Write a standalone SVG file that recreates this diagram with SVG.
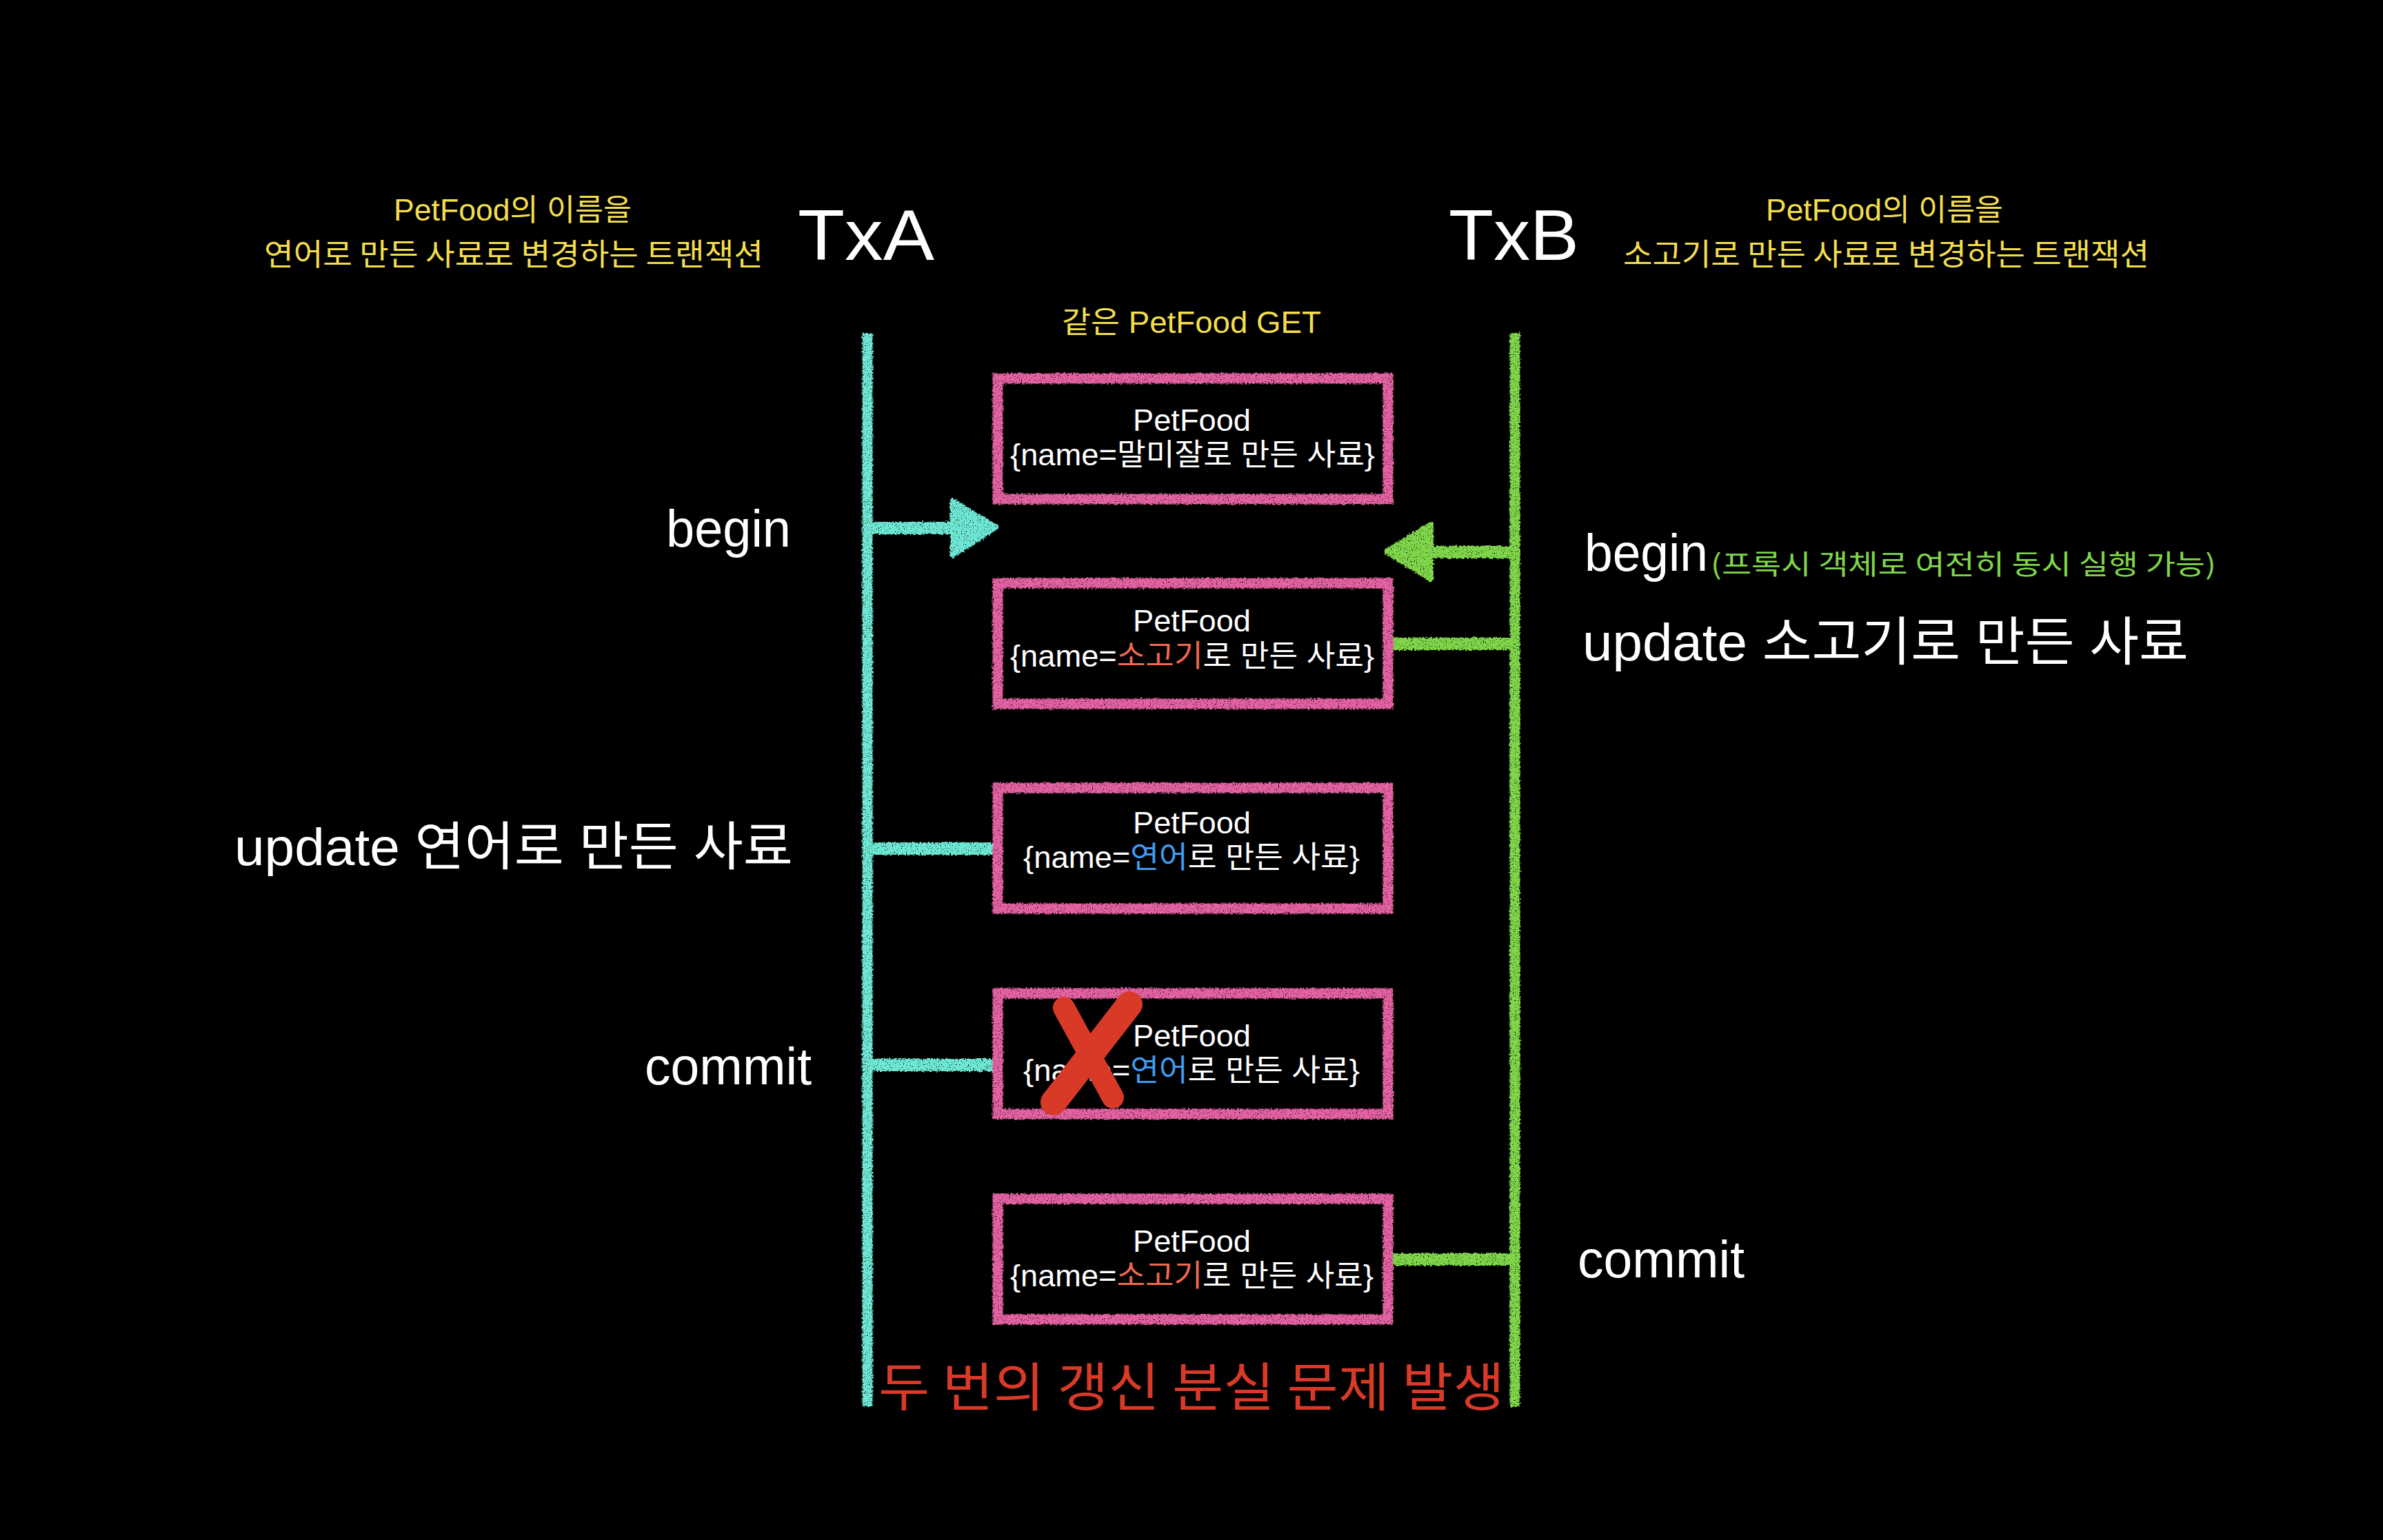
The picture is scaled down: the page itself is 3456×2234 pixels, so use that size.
<svg xmlns="http://www.w3.org/2000/svg" width="3456" height="2234" viewBox="0 0 3456 2234">
<style>
.ko{font-family:"Noto Sans CJK KR","Liberation Sans",sans-serif;}
.mix{font-family:"Liberation Sans","Noto Sans CJK KR",sans-serif;}
.yel{fill:#f3de4e;font-size:44px;}
.wh{fill:#ffffff;}
.box{fill:none;stroke:#e462a2;stroke-width:15;}
.cy{stroke:#6ee8d4;fill:none;stroke-linecap:butt;}
.gr{stroke:#7fd64a;fill:none;stroke-linecap:butt;}
.life{stroke-width:15;}
.conn{stroke-width:18;}
.headc{fill:#6ee8d4;stroke:#6ee8d4;stroke-width:8;stroke-linejoin:round;}
.headg{fill:#7fd64a;stroke:#7fd64a;stroke-width:8;stroke-linejoin:round;}
.btxt{fill:#ffffff;font-size:44px;}
.org{fill:#ee6a4c;}
.blu{fill:#3f9cf0;}
.lbl{fill:#ffffff;font-size:76px;}
</style>
<defs>
<filter id="chalk" filterUnits="userSpaceOnUse" x="0" y="0" width="3456" height="2234" color-interpolation-filters="sRGB">
<feTurbulence type="fractalNoise" baseFrequency="0.35" numOctaves="2" seed="2" result="noise"/>
<feDisplacementMap in="SourceGraphic" in2="noise" scale="6" xChannelSelector="R" yChannelSelector="G" result="rough"/>
<feTurbulence type="fractalNoise" baseFrequency="0.7" numOctaves="1" seed="9" result="grain"/>
<feColorMatrix in="grain" type="matrix" values="0 0 0 0 0  0 0 0 0 0  0 0 0 0 0  -9 0 0 0 6.6" result="mask"/>
<feComposite in="rough" in2="mask" operator="in"/>
</filter>
</defs>
<rect x="0" y="0" width="3456" height="2234" fill="#000000"/>

<g id="txA-header">
<text class="mix yel" x="571" y="320" textLength="345" lengthAdjust="spacingAndGlyphs">PetFood의 이름을</text>
<text class="ko yel" x="383" y="385" textLength="724" lengthAdjust="spacingAndGlyphs">연어로 만든 사료로 변경하는 트랜잭션</text>
<text class="mix wh" x="1157" y="377" font-size="103" textLength="198" lengthAdjust="spacingAndGlyphs">TxA</text>
</g>
<g id="txB-header">
<text class="mix wh" x="2101" y="377" font-size="103" textLength="189" lengthAdjust="spacingAndGlyphs">TxB</text>
<text class="mix yel" x="2561" y="320" textLength="344" lengthAdjust="spacingAndGlyphs">PetFood의 이름을</text>
<text class="ko yel" x="2354" y="385" textLength="763" lengthAdjust="spacingAndGlyphs">소고기로 만든 사료로 변경하는 트랜잭션</text>
</g>
<g id="get-label">
<text class="mix yel" x="1540" y="483" textLength="376" lengthAdjust="spacingAndGlyphs">같은 PetFood GET</text>
</g>

<g id="connectors" filter="url(#chalk)">
<line class="cy life" x1="1258" y1="483" x2="1258" y2="2040"/>
<line class="gr life" x1="2197" y1="483" x2="2197" y2="2040"/>
<line class="cy conn" x1="1258" y1="766" x2="1388" y2="766"/>
<polygon class="headc" points="1382,727 1444,765 1382,805"/>
<line class="gr conn" x1="2197" y1="801" x2="2068" y2="801"/>
<polygon class="headg" points="2075,761 2011,800 2075,840"/>
<line class="gr conn" x1="2020" y1="934" x2="2197" y2="934"/>
<line class="cy conn" x1="1258" y1="1231" x2="1440" y2="1231"/>
<line class="cy conn" x1="1258" y1="1545" x2="1440" y2="1545"/>
<line class="gr conn" x1="2020" y1="1827" x2="2197" y2="1827"/>
</g>

<g id="box1">
<rect class="box" x="1447" y="549" width="566" height="175" filter="url(#chalk)"/>
<text class="mix btxt" x="1643" y="625" textLength="171" lengthAdjust="spacingAndGlyphs">PetFood</text>
<text class="mix btxt" x="1465" y="675" textLength="529" lengthAdjust="spacingAndGlyphs">{name=말미잘로 만든 사료}</text>
</g>
<g id="box2">
<rect class="box" x="1447" y="846" width="566" height="175" filter="url(#chalk)"/>
<text class="mix btxt" x="1643" y="916" textLength="171" lengthAdjust="spacingAndGlyphs">PetFood</text>
<text class="mix btxt" x="1465" y="967" textLength="528" lengthAdjust="spacingAndGlyphs">{name=<tspan class="org">소고기</tspan>로 만든 사료}</text>
</g>
<g id="box3">
<rect class="box" x="1447" y="1143" width="566" height="175" filter="url(#chalk)"/>
<text class="mix btxt" x="1643" y="1209" textLength="171" lengthAdjust="spacingAndGlyphs">PetFood</text>
<text class="mix btxt" x="1484" y="1259" textLength="488" lengthAdjust="spacingAndGlyphs">{name=<tspan class="blu">연어</tspan>로 만든 사료}</text>
</g>
<g id="box4">
<rect class="box" x="1447" y="1441" width="566" height="175" filter="url(#chalk)"/>
<text class="mix btxt" x="1643" y="1518" textLength="171" lengthAdjust="spacingAndGlyphs">PetFood</text>
<text class="mix btxt" x="1484" y="1568" textLength="488" lengthAdjust="spacingAndGlyphs">{name=<tspan class="blu">연어</tspan>로 만든 사료}</text>
<g id="cross" stroke="#d93a28" stroke-linecap="round" fill="none">
<path d="M1543,1462 L1614,1592" stroke-width="32"/>
<path d="M1638,1457 L1528,1599" stroke-width="38"/>
</g>
</g>
<g id="box5">
<rect class="box" x="1447" y="1739" width="566" height="175" filter="url(#chalk)"/>
<text class="mix btxt" x="1643" y="1816" textLength="171" lengthAdjust="spacingAndGlyphs">PetFood</text>
<text class="mix btxt" x="1465" y="1866" textLength="527" lengthAdjust="spacingAndGlyphs">{name=<tspan class="org">소고기</tspan>로 만든 사료}</text>
</g>

<g id="labels-txA">
<text class="mix lbl" x="966" y="793" font-size="80" textLength="181" lengthAdjust="spacingAndGlyphs">begin</text>
<text class="mix lbl" x="340" y="1255" font-size="72" textLength="810" lengthAdjust="spacingAndGlyphs">update 연어로 만든 사료</text>
<text class="mix lbl" x="935" y="1573" font-size="72" textLength="242" lengthAdjust="spacingAndGlyphs">commit</text>
</g>
<g id="labels-txB">
<text class="mix lbl" x="2298" y="828" font-size="80" textLength="179" lengthAdjust="spacingAndGlyphs">begin</text>
<text class="ko" x="2481" y="833" font-size="40" fill="#7fd64a" textLength="733" lengthAdjust="spacingAndGlyphs">(프록시 객체로 여전히 동시 실행 가능)</text>
<text class="mix lbl" x="2295" y="958" font-size="72" textLength="879" lengthAdjust="spacingAndGlyphs">update 소고기로 만든 사료</text>
<text class="mix lbl" x="2288" y="1853" font-size="72" textLength="242" lengthAdjust="spacingAndGlyphs">commit</text>
</g>
<g id="result">
<text class="ko" x="1274" y="2040" font-size="76" fill="#d93a28" textLength="908" lengthAdjust="spacingAndGlyphs">두 번의 갱신 분실 문제 발생</text>
</g>
</svg>
